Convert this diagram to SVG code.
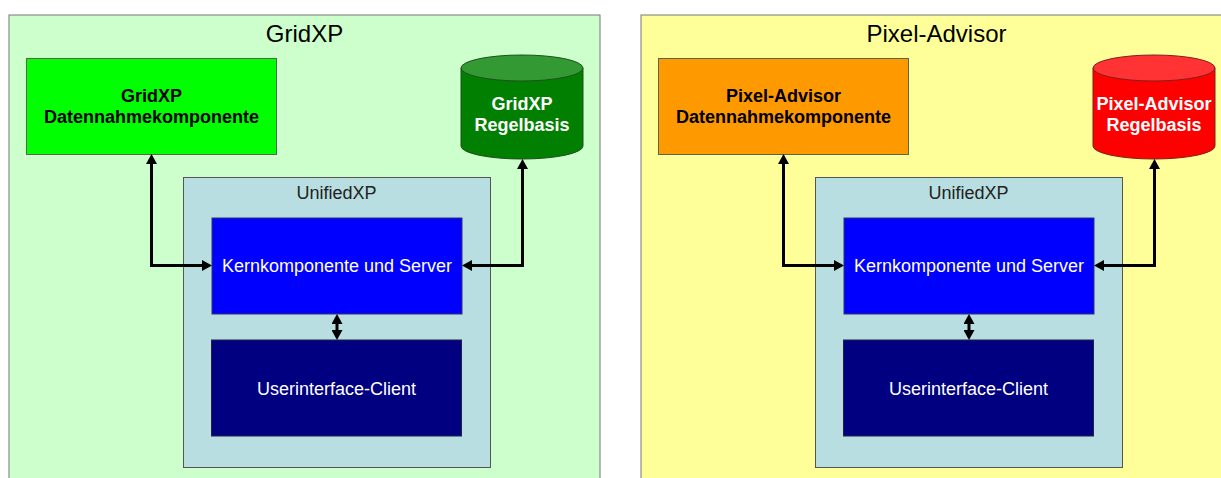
<svg xmlns="http://www.w3.org/2000/svg" width="1221" height="478" viewBox="0 0 1221 478">
<style>
text{font-family:"Liberation Sans",Arial,sans-serif;text-anchor:middle}
.title{font-size:24px;fill:#000}
.bold{font-size:18px;font-weight:bold}
.reg{font-size:18px}
.panel{stroke:#777;stroke-width:1}
.box{stroke:#556655;stroke-width:1}
.unified{fill:#b8dee1;stroke:#555;stroke-width:1}
.kern{fill:#0000ff;stroke:#333366;stroke-width:1}
.ui{fill:#000080;stroke:#222244;stroke-width:1}
.conn{fill:none;stroke:#000;stroke-width:3;marker-start:url(#ah);marker-end:url(#ah)}
</style>
<defs>
<marker id="ah" markerUnits="userSpaceOnUse" markerWidth="11" markerHeight="11" refX="4" refY="5.5" orient="auto-start-reverse" viewBox="0 0 10 11">
<path d="M0,0 L10,5.5 L0,11 z" fill="#000"/>
</marker>
</defs>
<rect width="1221" height="478" fill="#fff"/>

<g id="panel-gridxp">
<rect class="panel" x="9" y="15" width="591" height="480" fill="#ccffcc"/>
<text class="title" x="304.5" y="42">GridXP</text>
</g>
<g id="panel-pixel">
<rect class="panel" x="641" y="15" width="600" height="480" fill="#ffff99"/>
<text class="title" x="936.5" y="42">Pixel-Advisor</text>
</g>

<g id="gridxp-daten">
<rect class="box" x="26.5" y="58.5" width="250" height="96" fill="#00ff00"/>
<text class="bold" x="151.5" y="101.5">GridXP</text>
<text class="bold" x="151.5" y="123">Datennahmekomponente</text>
</g>
<g id="gridxp-regel">
<path d="M461,68 V146 A61,13 0 0 0 583,146 V68 Z" fill="#007f00" stroke="#1f4f1f" stroke-width="1"/>
<ellipse cx="522" cy="68" rx="61" ry="13" fill="#339933" stroke="#1f4f1f" stroke-width="1"/>
<text class="bold" x="522" y="110" fill="#fff">GridXP</text>
<text class="bold" x="522" y="131" fill="#fff">Regelbasis</text>
</g>
<g id="gridxp-unified">
<rect class="unified" x="183.5" y="177.5" width="307" height="290"/>
<text class="reg" x="336.5" y="199" fill="#222">UnifiedXP</text>
</g>
<g id="gridxp-kern">
<rect class="kern" x="212" y="218" width="250" height="96"/>
<text class="reg" x="337" y="272" fill="#fff">Kernkomponente und Server</text>
</g>
<g id="gridxp-ui">
<rect class="ui" x="211.5" y="340" width="250" height="96"/>
<text class="reg" x="336.5" y="395" fill="#fff">Userinterface-Client</text>
</g>

<g id="pixel-daten">
<rect class="box" x="658.5" y="58.5" width="250" height="96" fill="#ff9900"/>
<text class="bold" x="783.5" y="101.5">Pixel-Advisor</text>
<text class="bold" x="783.5" y="123">Datennahmekomponente</text>
</g>
<g id="pixel-regel">
<path d="M1093,68 V146 A61,13 0 0 0 1215,146 V68 Z" fill="#ff0000" stroke="#7f1f1f" stroke-width="1"/>
<ellipse cx="1154" cy="68" rx="61" ry="13" fill="#ff3333" stroke="#7f1f1f" stroke-width="1"/>
<text class="bold" x="1154" y="110" fill="#fff">Pixel-Advisor</text>
<text class="bold" x="1154" y="131" fill="#fff">Regelbasis</text>
</g>
<g id="pixel-unified">
<rect class="unified" x="815.5" y="177.5" width="307" height="290"/>
<text class="reg" x="968.5" y="199" fill="#222">UnifiedXP</text>
</g>
<g id="pixel-kern">
<rect class="kern" x="844" y="218" width="250" height="96"/>
<text class="reg" x="969" y="272" fill="#fff">Kernkomponente und Server</text>
</g>
<g id="pixel-ui">
<rect class="ui" x="843.5" y="340" width="250" height="96"/>
<text class="reg" x="968.5" y="395" fill="#fff">Userinterface-Client</text>
</g>

<g id="connectors">
<path class="conn" d="M151.5,160 V265.5 H206"/>
<path class="conn" d="M522.5,165 V265.5 H468"/>
<path class="conn" d="M337,320 V334"/>
<path class="conn" d="M783.5,160 V265.5 H838"/>
<path class="conn" d="M1154.5,165 V265.5 H1100"/>
<path class="conn" d="M969,320 V334"/>
</g>
</svg>
